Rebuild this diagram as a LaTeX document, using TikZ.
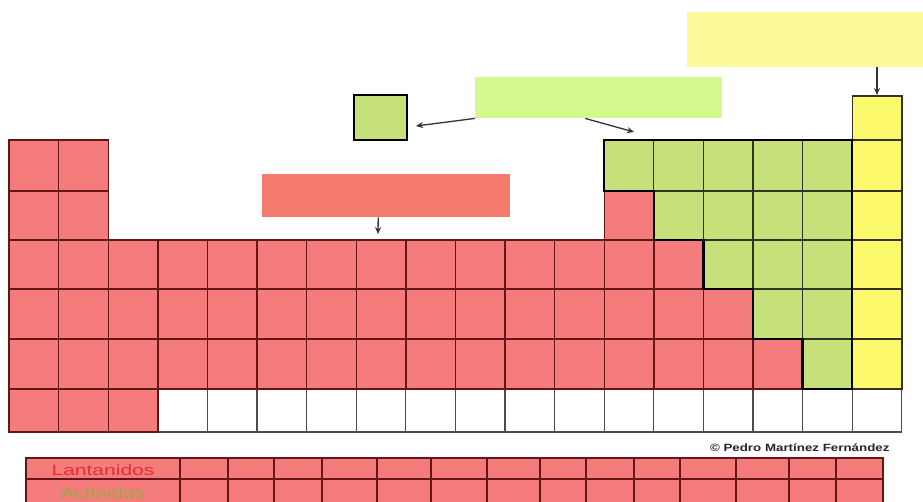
\documentclass[tikz,border=0pt]{standalone}
\usepackage{fontspec}
\setmainfont{Liberation Sans}
\usepackage{tikz}
\usetikzlibrary{arrows.meta,positioning}
\usepackage{xcolor}
\definecolor{metalred}{RGB}{245,124,124}
\definecolor{metalline}{RGB}{100,22,22}
\definecolor{nonmetalgreen}{RGB}{198,224,122}
\definecolor{gasyellow}{RGB}{252,250,108}
\definecolor{darkline}{RGB}{50,50,40}
\definecolor{labelred}{RGB}{244,122,110}
\definecolor{labelgreen}{RGB}{212,250,142}
\definecolor{labelyellow}{RGB}{250,250,152}
\definecolor{lantred}{RGB}{232,45,50}
\definecolor{actgreen}{RGB}{150,172,62}

\begin{document}
\begin{tikzpicture}[x=1pt,y=-1pt,>=Stealth]
\tikzstyle{metalcell}=[fill=metalred,draw=metalline,line width=1.4pt]
\tikzstyle{nonmetalcell}=[fill=nonmetalgreen,draw=darkline,line width=1.3pt]
\tikzstyle{gascell}=[fill=gasyellow,draw=darkline,line width=1.4pt]
\tikzstyle{emptycell}=[fill=white,draw=black!70,line width=1.3pt]
\tikzstyle{nmborder}=[draw=black,line width=2.4pt,line join=miter]
\tikzstyle{callout}=[->,draw=black!80,line width=1.3pt,arrows={-Stealth[length=7pt,width=6pt]}]
\tikzstyle{catlbl}=[inner sep=0pt,anchor=north west]

\clip (0,0) rectangle (923,501);
\fill[white] (0,0) rectangle (923,501);

% tabla principal
\foreach \c in {4,...,18} \draw[emptycell] ({9+49.6*(\c-1)},389) rectangle ++(49.6,43);
\foreach \ya/\h/\last in {140/51/2,191/49/2,240/49/14,289/50/15,339/50/16,389/43/3}
  \foreach \c in {1,...,\last} \draw[metalcell] ({9+49.6*(\c-1)},\ya) rectangle ++(49.6,\h);
\draw[metalcell] (604.2,191) rectangle ++(49.6,49);
\foreach \ya/\h/\first in {140/51/13,191/49/14,240/49/15,289/50/16,339/50/17}
  \foreach \c in {\first,...,17} \draw[nonmetalcell] ({9+49.6*(\c-1)},\ya) rectangle ++(49.6,\h);
\foreach \ya/\h in {96/44,140/51,191/49,240/49,289/50,339/50} \draw[gascell] (852.2,\ya) rectangle ++(49.6,\h);
\draw[nmborder] (604.2,140) -- (852.2,140) -- (852.2,389) -- (802.6,389) -- (802.6,339) -- (753,339) -- (753,289) -- (703.4,289) -- (703.4,240) -- (653.8,240) -- (653.8,191) -- (604.2,191) -- cycle;

% lantanidos y actinidos
\foreach \xa/\xb in {26/180,180/228,228/274,274/322,322/377,377/431,431/487,487/540,540/586,586/634,634/680,680/736,736/789,789/836,836/883}
  \foreach \ya/\yb in {458/479,479/506} \draw[metalcell] (\xa,\ya) rectangle (\xb,\yb);
\node[font=\fontsize{15}{15}\selectfont,text=lantred,xscale=1.4] (lant) at (103,470.5) {Lantanidos};
\node[font=\fontsize{15}{15}\selectfont,text=actgreen,xscale=1.4] (act) at (103,493.5) {Actinidos};
\node[font=\fontsize{10.5}{11}\selectfont\bfseries,text=black!85,xscale=1.27,anchor=east] (autor) at (894,448) {© Pedro Martínez Fernández};

% etiquetas
\node[catlbl,fill=labelyellow,minimum width=245,minimum height=55] (lblgas) at (687,12) {};
\node[catlbl,fill=labelgreen,minimum width=247,minimum height=41] (lblnonmetal) at (475,77) {};
\node[catlbl,fill=labelred,minimum width=248,minimum height=43] (lblmetal) at (262,174) {};
\node[draw=black,line width=2.4pt,fill=nonmetalgreen,minimum width=53,minimum height=45,inner sep=0pt] (keysq) at (380.5,117.5) {};

\coordinate (hetop) at (877,95);
\coordinate (keyend) at (416,126);
\coordinate (nmend) at (634,132);
\coordinate (metalend) at (378,234);
\draw[callout] (lblgas.south -| hetop) -- (hetop);
\draw[callout] (lblnonmetal.south west) -- (keyend);
\draw[callout] ([xshift=-13.5pt]lblnonmetal.south) -- (nmend);
\draw[callout] ([xshift=-8pt]lblmetal.south) -- (metalend);
\end{tikzpicture}
\end{document}
